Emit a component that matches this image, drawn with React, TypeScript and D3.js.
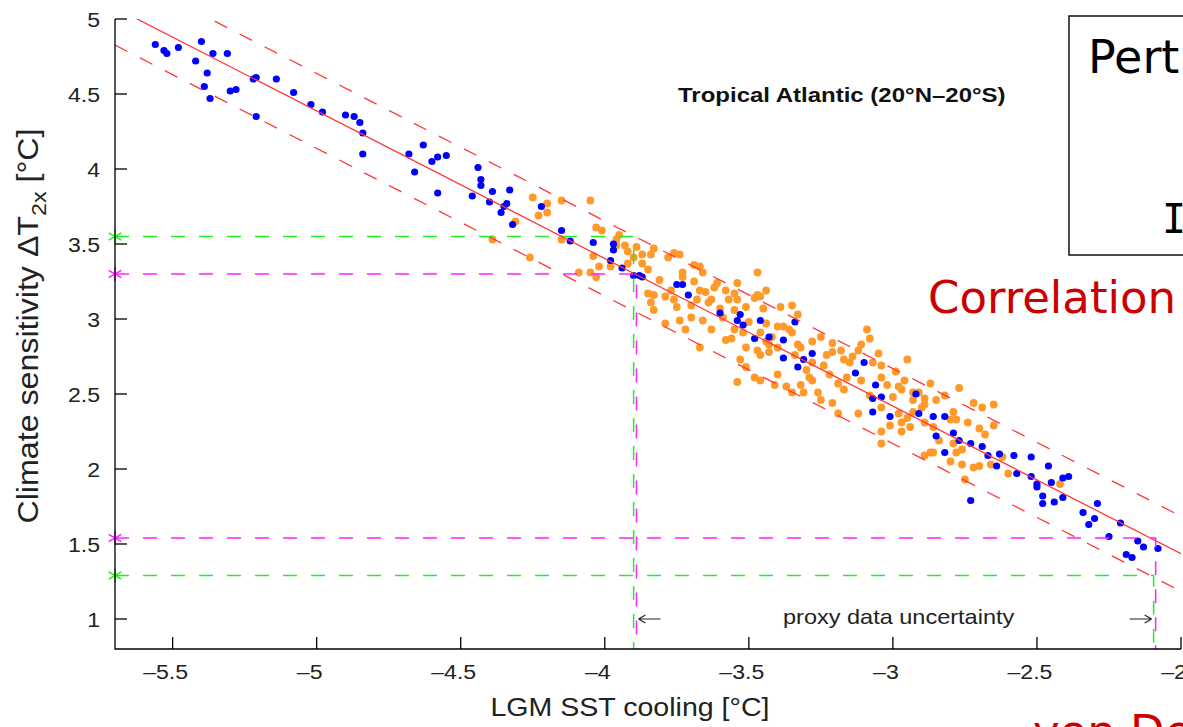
import React from 'react'
import * as d3 from 'd3'

// tick values
const xTicks = [-5.5, -5, -4.5, -4, -3.5, -3, -2.5, -2]
const yTicks = [1, 1.5, 2, 2.5, 3, 3.5, 4, 4.5, 5]

// regression fit: ECS = a + b * SST, with a +/- band
const fitCoef = [-0.533, -0.984]
const fitBand = 0.25

// proxy uncertainty guides (x end, y level, colour)
const guideX = [-3.9, -3.89, -2.088, -2.095]
const guideY = [3.55, 3.3, 1.54, 1.29]
const guideColor = ['#22ee22', '#ff22ff', '#ff22ff', '#22ee22']

// blue: model ensemble members
const bluePoints: [number, number][] = [
  [-5.56, 4.83], [-5.53, 4.79], [-5.52, 4.77], [-5.48, 4.81], [-5.4, 4.85], [-5.42, 4.72], [-5.36, 4.77],
  [-5.31, 4.77], [-5.38, 4.64], [-5.39, 4.55], [-5.37, 4.47], [-5.3, 4.52], [-5.28, 4.53], [-5.22, 4.6],
  [-5.21, 4.61], [-5.14, 4.6], [-5.21, 4.35], [-5.08, 4.51], [-5.02, 4.43], [-4.98, 4.38], [-4.9, 4.36],
  [-4.87, 4.35], [-4.85, 4.31], [-4.84, 4.24], [-4.84, 4.1], [-4.68, 4.1], [-4.63, 4.16], [-4.66, 3.98],
  [-4.6, 4.05], [-4.58, 4.08], [-4.55, 4.09], [-4.58, 3.84], [-4.44, 4.01], [-4.43, 3.93], [-4.43, 3.89],
  [-4.46, 3.82], [-4.39, 3.85], [-4.33, 3.86], [-4.4, 3.78], [-4.34, 3.77], [-4.36, 3.71], [-4.35, 3.75],
  [-4.32, 3.63], [-4.22, 3.75], [-4.15, 3.59], [-4.12, 3.52], [-4.04, 3.51], [-3.97, 3.5], [-3.97, 3.46],
  [-3.98, 3.39], [-3.94, 3.34], [-3.9, 3.29], [-3.88, 3.29], [-3.87, 3.28], [-3.75, 3.23], [-3.73, 3.23],
  [-3.71, 3.16], [-3.6, 3.04], [-3.54, 2.99], [-3.53, 3.03], [-3.52, 2.96], [-3.46, 2.99], [-3.48, 2.87],
  [-3.43, 2.88], [-3.38, 2.86], [-3.34, 2.98], [-3.38, 2.74], [-3.31, 2.73], [-3.33, 2.68], [-3.28, 2.77],
  [-3.13, 2.64], [-3.1, 2.71], [-3.06, 2.56], [-3.07, 2.47], [-3.04, 2.48], [-2.92, 2.5], [-3.07, 2.38],
  [-3.01, 2.35], [-2.91, 2.37], [-2.86, 2.35], [-2.82, 2.35], [-2.85, 2.22], [-2.79, 2.24], [-2.77, 2.19],
  [-2.73, 2.17], [-2.82, 2.11], [-2.69, 2.15], [-2.67, 2.09], [-2.63, 2.1], [-2.58, 2.09], [-2.52, 2.08],
  [-2.46, 2.02], [-2.64, 2.02], [-2.57, 1.97], [-2.52, 1.95], [-2.5, 1.9], [-2.5, 1.88], [-2.45, 1.91],
  [-2.41, 1.94], [-2.39, 1.95], [-2.48, 1.82], [-2.48, 1.77], [-2.44, 1.78], [-2.41, 1.81], [-2.73, 1.79],
  [-2.34, 1.71], [-2.29, 1.77], [-2.3, 1.67], [-2.32, 1.63], [-2.21, 1.64], [-2.25, 1.55], [-2.15, 1.52],
  [-2.13, 1.48], [-2.08, 1.47], [-2.19, 1.43], [-2.17, 1.41]
]

// orange: second ensemble
const orangePoints: [number, number][] = [
  [-4.25, 3.81], [-4.2, 3.77], [-4.15, 3.79], [-4.05, 3.79], [-4.23, 3.69], [-4.2, 3.71], [-4.31, 3.65],
  [-4.39, 3.53], [-4.15, 3.53], [-4.26, 3.41], [-4.03, 3.61], [-4.01, 3.59], [-3.95, 3.56], [-3.93, 3.49],
  [-3.89, 3.48], [-3.96, 3.49], [-3.9, 3.41], [-3.87, 3.37], [-3.92, 3.37], [-3.83, 3.47], [-3.84, 3.43],
  [-3.87, 3.43], [-3.78, 3.41], [-3.76, 3.44], [-3.74, 3.43], [-3.69, 3.36], [-3.67, 3.35], [-3.66, 3.31],
  [-4.04, 3.42], [-4.02, 3.35], [-3.98, 3.35], [-4.09, 3.31], [-4.05, 3.31], [-4.03, 3.28], [-3.85, 3.17],
  [-3.83, 3.16], [-3.84, 3.11], [-3.79, 3.15], [-3.76, 3.13], [-3.75, 3.08], [-3.73, 3.31], [-3.73, 3.28],
  [-3.69, 3.25], [-3.67, 3.19], [-3.65, 3.18], [-3.62, 3.21], [-3.61, 3.24], [-3.58, 3.19], [-3.54, 3.24],
  [-3.55, 3.17], [-3.68, 3.13], [-3.64, 3.11], [-3.6, 3.07], [-3.57, 3.13], [-3.54, 3.13], [-3.51, 3.08],
  [-3.47, 3.31], [-3.44, 3.19], [-3.46, 3.15], [-3.45, 3.07], [-3.7, 3.01], [-3.66, 2.99], [-3.63, 2.93],
  [-3.72, 2.93], [-3.79, 2.97], [-3.67, 2.81], [-3.55, 2.93], [-3.56, 2.87], [-3.52, 2.91], [-3.51, 2.81],
  [-3.47, 2.79], [-3.46, 2.76], [-3.51, 2.68], [-3.54, 2.58], [-3.48, 2.61], [-3.43, 2.83], [-3.42, 2.88],
  [-3.41, 2.56], [-3.4, 2.95], [-3.39, 3.08], [-3.47, 3.16], [-3.48, 3.14], [-3.35, 3.09], [-3.33, 3.03],
  [-3.38, 2.95], [-3.44, 2.97], [-3.46, 2.91], [-3.44, 2.85], [-3.4, 2.81], [-3.43, 2.78], [-3.35, 2.91],
  [-3.33, 2.83], [-3.32, 2.81], [-3.28, 2.85], [-3.25, 2.88], [-3.21, 2.84], [-3.21, 2.78], [-3.28, 2.71],
  [-3.24, 2.69], [-3.29, 2.61], [-3.28, 2.59], [-3.4, 2.63], [-3.37, 2.55], [-3.35, 2.51], [-3.31, 2.51],
  [-3.26, 2.51], [-3.22, 2.63], [-3.19, 2.57], [-3.17, 2.73], [-3.15, 2.71], [-3.14, 2.75], [-3.08, 2.87],
  [-3.11, 2.83], [-3.05, 2.77], [-3.07, 2.71], [-3.16, 2.61], [-3.11, 2.59], [-3.04, 2.61], [-3.02, 2.56],
  [-2.98, 2.55], [-2.97, 2.53], [-2.95, 2.73], [-2.96, 2.59], [-3.0, 2.48], [-3.04, 2.41], [-2.98, 2.37],
  [-2.93, 2.38], [-2.91, 2.51], [-2.93, 2.46], [-2.89, 2.47], [-2.87, 2.57], [-2.85, 2.46], [-2.9, 2.41],
  [-2.95, 2.34], [-2.97, 2.31], [-3.01, 2.29], [-2.94, 2.28], [-2.97, 2.25], [-2.89, 2.31], [-2.86, 2.28],
  [-2.8, 2.33], [-2.79, 2.38], [-2.77, 2.54], [-2.72, 2.44], [-2.69, 2.41], [-2.65, 2.43], [-2.74, 2.31],
  [-2.65, 2.29], [-2.86, 2.11], [-2.8, 2.05], [-2.76, 2.13], [-2.89, 2.09], [-3.04, 2.17], [-3.12, 2.37],
  [-3.21, 2.44], [-3.19, 2.37], [-3.04, 2.25], [-2.79, 2.17], [-2.7, 2.27], [-2.6, 1.97], [-2.62, 2.08],
  [-2.66, 2.03], [-2.72, 2.01], [-2.76, 2.03], [-2.87, 2.11], [-2.78, 2.11], [-2.7, 2.02], [-2.75, 1.93],
  [-2.42, 1.9],
  [-3.96, 3.53], [-3.92, 3.45], [-3.85, 3.33], [-3.81, 3.26], [-3.77, 3.19], [-3.7, 3.09], [-3.63, 3.13],
  [-3.59, 3.01], [-3.55, 3.06], [-3.5, 2.98], [-3.58, 2.86], [-3.36, 2.93], [-3.34, 2.76], [-3.3, 2.66],
  [-3.23, 2.76], [-3.18, 2.79], [-3.12, 2.79], [-3.09, 2.93], [-3.04, 2.69], [-2.99, 2.65], [-3.08, 2.49],
  [-2.93, 2.51], [-2.89, 2.43], [-2.82, 2.49], [-2.78, 2.33], [-2.84, 2.19], [-2.68, 2.23], [-3.46, 2.59],
  [-3.53, 2.73], [-3.74, 2.99], [-3.83, 3.06], [-3.17, 2.53], [-3.25, 2.46], [-3.32, 2.56]
]

const W = 1183
const H = 727
const helv = "'Liberation Sans', Arial, Helvetica, sans-serif"
const comic = "'Comic Sans MS', 'DejaVu Sans', sans-serif"

function dashLabel (v: number) {
  return v < 0 ? '\u2013' + Math.abs(v) : String(v)
}

export default function App () {
  const x = d3.scaleLinear().domain([-5.7, -2]).range([115, 1181])
  const y = d3.scaleLinear().domain([0.8, 5]).range([649, 19])

  const fitLine = (off: number) => {
    const [a, b] = fitCoef
    const xs = [-5.7, -2]
    return d3.line<number>()
      .x(d => x(d))
      .y(d => y(a + b * d + off))(xs) as string
  }

  const star = d3.symbol().type(d3.symbolAsterisk).size(150)() as string

  return (
    <svg width={W} height={H} style={{ position: 'absolute', left: 0, top: 0, background: '#fff' }}>
      <defs>
        <clipPath id='plot'>
          <rect x={x(-5.7)} y={y(5)} width={x(-2) - x(-5.7)} height={y(0.8) - y(5)} />
        </clipPath>
      </defs>

      {/* scatter */}
      <g>
        {orangePoints.map((d, i) => (
          <circle key={'o' + i} cx={x(d[0])} cy={y(d[1])} r={3.9} fill='#ff9a2a' />
        ))}
        {bluePoints.map((d, i) => (
          <circle key={'b' + i} cx={x(d[0])} cy={y(d[1])} r={3.6} fill='#0000ff' />
        ))}
      </g>

      {/* regression and band */}
      <g clipPath='url(#plot)' fill='none'>
        <path d={fitLine(0)} stroke='#ff3838' strokeWidth={1.3} />
        <path d={fitLine(fitBand)} stroke='#ff3838' strokeWidth={1.3} strokeDasharray='14,14' />
        <path d={fitLine(-fitBand)} stroke='#ff3838' strokeWidth={1.3} strokeDasharray='14,14' />
      </g>

      {/* proxy guides */}
      <g fill='none' strokeWidth={1.5} strokeDasharray='14,14'>
        {guideX.map((gx, i) => (
          <path key={'g' + i}
            d={`M${x(-5.7)},${y(guideY[i])}H${x(gx)}V${y(0.8)}`}
            stroke={guideColor[i]} />
        ))}
      </g>
      {guideY.map((gy, i) => (
        <path key={'s' + i} d={star} transform={`translate(${x(-5.7)},${y(gy)})`}
          fill='none' stroke={guideColor[i]} strokeWidth={1.6} />
      ))}

      {/* axes */}
      <g stroke='#000' strokeWidth={1.3} fill='none'>
        <path d={`M${x(-5.7)},${y(5)}V${y(0.8)}H${x(-2)}`} />
        {yTicks.map(t => <path key={'yt' + t} d={`M${x(-5.7)},${y(t)}h12`} />)}
        {xTicks.map(t => <path key={'xt' + t} d={`M${x(t)},${y(0.8)}v-12`} />)}
      </g>
      <g fontFamily={helv} fontSize={21} fill='#222'>
        {yTicks.map(t => (
          <text key={'yl' + t} transform={`translate(${x(-5.7) - 15},${y(t) + 8}) scale(1.1,1)`} textAnchor='end'>
            {dashLabel(t)}
          </text>
        ))}
        {xTicks.map(t => (
          <text key={'xl' + t} transform={`translate(${x(t) - 7},${y(0.8) + 30}) scale(1.1,1)`} textAnchor='middle'>
            {dashLabel(t)}
          </text>
        ))}
      </g>

      {/* axis titles */}
      <text transform='translate(630,716) scale(1.12,1)' textAnchor='middle'
        fontFamily={helv} fontSize={25.5} fill='#222'>LGM SST cooling [°C]</text>
      <text transform='translate(38,326) rotate(-90) scale(1.11,1)' textAnchor='middle'
        fontFamily={helv} fontSize={29} fill='#222'>
        Climate sensitivity ΔT<tspan dy={8} fontSize={21}>2x</tspan><tspan dy={-8}> [°C]</tspan>
      </text>

      {/* annotations */}
      <text transform='translate(678,102) scale(1.2,1)' fontFamily={helv} fontWeight='bold' fontSize={20} fill='#111'>
        Tropical Atlantic (20°N–20°S)
      </text>
      <text transform={`translate(${(x(guideX[0]) + x(guideX[3])) / 2 + 5},${y(1) + 5}) scale(1.12,1)`} textAnchor='middle'
        fontFamily={helv} fontSize={21} fill='#222'>proxy data uncertainty</text>
      <g stroke='#222' strokeWidth={1.1} fill='none'>
        <path d={`M${x(guideX[1]) + 2},${y(1)}h22M${x(guideX[1]) + 2},${y(1)}l7,-4M${x(guideX[1]) + 2},${y(1)}l7,4`} />
        <path d={`M${x(guideX[3]) - 2},${y(1)}h-22M${x(guideX[3]) - 2},${y(1)}l-7,-4M${x(guideX[3]) - 2},${y(1)}l-7,4`} />
      </g>

      <rect x={1069} y={16} width={200} height={239} fill='none' stroke='#111' strokeWidth={1.5} />
      <text x={1088} y={73} fontFamily={comic} fontSize={46} fill='#000'>Pert</text>
      <text x={1162} y={233} fontFamily="'DejaVu Sans Mono', monospace" fontSize={40} fill='#000'>I</text>
      <text x={928} y={313} fontFamily={comic} fontSize={45} fill='#cc0000'>Correlation</text>
      <text x={1033} y={747} fontFamily={comic} fontSize={45} fill='#cc0000'>von Dei</text>
    </svg>
  )
}
